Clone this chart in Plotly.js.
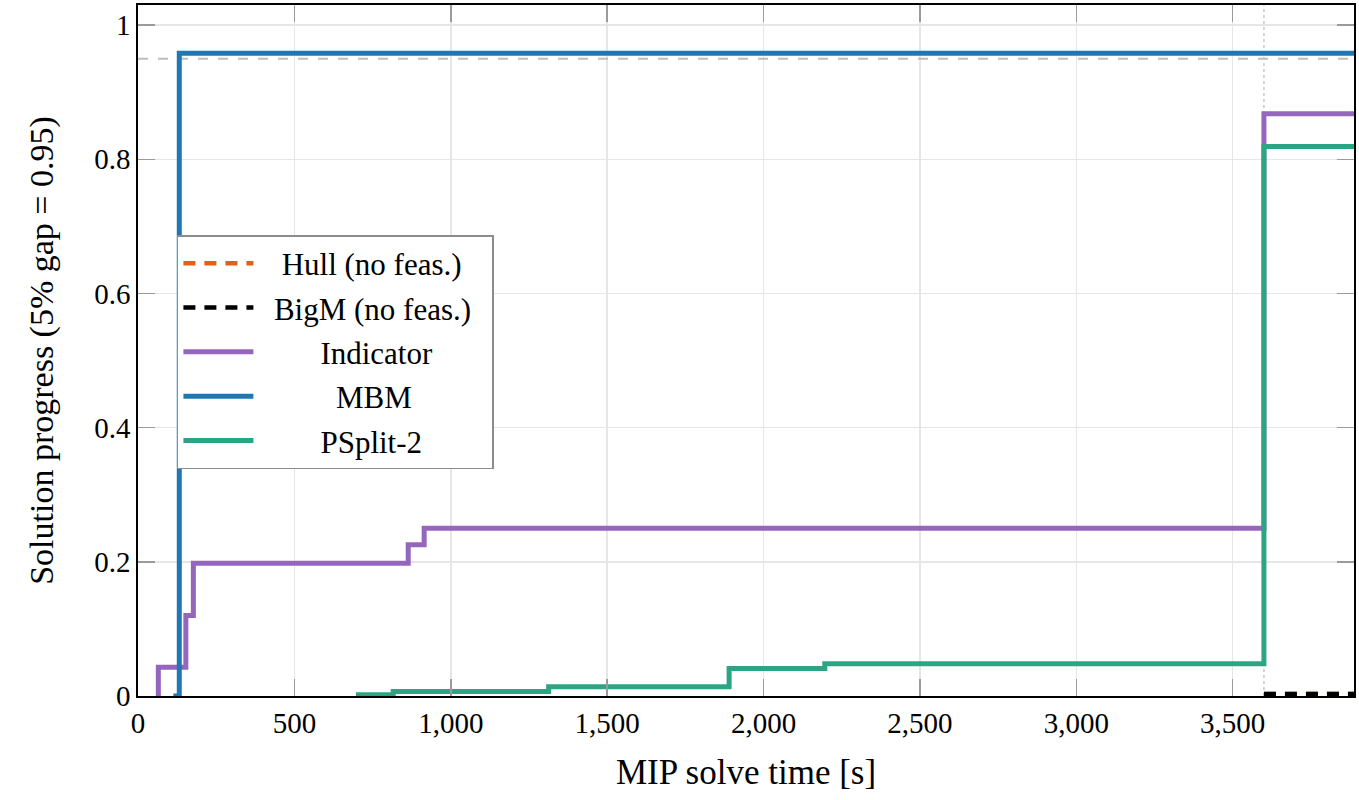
<!DOCTYPE html>
<html>
<head>
<meta charset="utf-8">
<script src="https://cdn.plot.ly/plotly-3.0.1.min.js"></script>
<style>html,body{margin:0;padding:0;background:#fff;}#chart{width:1359px;height:800px;}</style>
</head>
<body>
<div id="chart"></div>
<script>
// Series names
const seriesNames = ["Hull (no feas.)", "BigM (no feas.)", "Indicator", "MBM", "PSplit-2"];

// Step data (time in s, progress)
const hullTime = [3600, 3888];
const hullProgress = [0.003, 0.003];

const bigmTime = [3600, 3888];
const bigmProgress = [0.003, 0.003];

const indicatorTime = [65, 65, 153, 177, 864, 915, 3600, 3888];
const indicatorProgress = [0, 0.043, 0.12, 0.198, 0.2256, 0.25, 0.868, 0.868];

const mbmTime = [113, 132, 3888];
const mbmProgress = [0, 0.958, 0.958];

const psplitTime = [697, 816, 1313, 1890, 2196, 3600, 3888];
const psplitProgress = [0.002, 0.0067, 0.0137, 0.041, 0.048, 0.819, 0.819];

// Reference lines
const gapTarget = 0.95;
const timeLimit = 3600;
const xMax = 3888;
const yMax = 1.03;

const xTicks = [0, 500, 1000, 1500, 2000, 2500, 3000, 3500];
const yTicks = [0, 0.2, 0.4, 0.6, 0.8, 1];

const FONT = "'Liberation Serif', 'DejaVu Serif', serif";
const pad = (s, n, m) => '\u00a0'.repeat(n) + s + '\u00a0'.repeat(m || 0);

const traces = [
  {x: [0, xMax], y: [gapTarget, gapTarget], mode: 'lines', line: {color: '#bdbdbd', width: 2, dash: '10px,10px'}, showlegend: false, hoverinfo: 'skip'},
  {x: [timeLimit, timeLimit], y: [0, yMax], mode: 'lines', line: {color: '#c8c8c8', width: 1.5, dash: 'dot'}, showlegend: false, hoverinfo: 'skip'},
  {x: hullTime, y: hullProgress, name: pad(seriesNames[0], 3), mode: 'lines', line: {color: '#e0601c', width: 4.5, dash: '12px,9px', shape: 'hv'}, legendgroup: 'a'},
  {x: bigmTime, y: bigmProgress, name: pad(seriesNames[1], 2, 2), mode: 'lines', line: {color: '#000000', width: 4.5, dash: '12px,9px', shape: 'hv'}, legendgroup: 'b'},
  {x: indicatorTime, y: indicatorProgress, name: pad(seriesNames[2], 8), mode: 'lines', line: {color: '#9467bd', width: 5, shape: 'hv'}, legendgroup: 'c'},
  {x: mbmTime, y: mbmProgress, name: pad(seriesNames[3], 10), mode: 'lines', line: {color: '#1f77b4', width: 5, shape: 'hv'}, legendgroup: 'd'},
  {x: psplitTime, y: psplitProgress, name: pad(seriesNames[4], 8), mode: 'lines', line: {color: '#2ca584', width: 5, shape: 'hv'}, legendgroup: 'e'}
];

const axisCommon = {
  showline: true, linecolor: '#000', linewidth: 1.8, mirror: 'ticks',
  ticks: 'inside', ticklen: 17, tickcolor: '#9a9a9a', tickwidth: 1.5,
  showgrid: true, gridcolor: '#e6e6e6', gridwidth: 1.5, zeroline: false,
  tickfont: {family: FONT, size: 29, color: '#000'}
};

const layout = {
  width: 1359, height: 800,
  margin: {l: 138, r: 5, t: 5, b: 104},
  paper_bgcolor: '#fff', plot_bgcolor: '#fff',
  font: {family: FONT, size: 29, color: '#000'},
  xaxis: Object.assign({}, axisCommon, {
    range: [0, xMax], tickvals: xTicks, tickformat: ',d',
    title: {text: 'MIP solve time [s]', font: {family: FONT, size: 35}, standoff: 22}
  }),
  yaxis: Object.assign({}, axisCommon, {
    range: [0, yMax], tickvals: yTicks,
    title: {text: 'Solution progress (5% gap = 0.95)', font: {family: FONT, size: 34}, standoff: 30}
  }),
  legend: {
    x: 0.032, y: 0.667, xanchor: 'left', yanchor: 'top',
    bordercolor: '#8c8c8c', borderwidth: 1.5, bgcolor: '#fff',
    font: {family: FONT, size: 31}, itemwidth: 70, tracegroupgap: 1,
    traceorder: 'grouped'
  },
  showlegend: true
};

Plotly.newPlot('chart', traces, layout, {displayModeBar: false, staticPlot: true});
</script>
</body>
</html>
